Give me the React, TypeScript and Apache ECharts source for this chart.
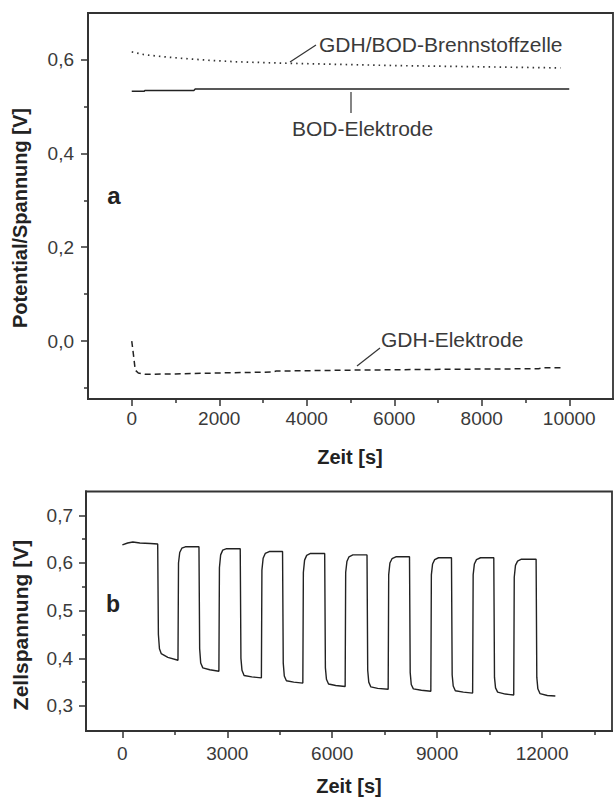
import React, { useEffect, useRef } from 'react';
import * as echarts from 'echarts';

// ---- Panel a: potentials / voltage vs time ----
const fuelCellA: [number, number][] = [
  [0, 0.616], [300, 0.610], [700, 0.606], [1200, 0.602], [1800, 0.598], [2400, 0.595],
  [3500, 0.592], [4500, 0.590], [6000, 0.587], [7500, 0.585], [9000, 0.583], [9800, 0.582],
];
const bodElectrodeA: [number, number][] = [
  [0, 0.532], [280, 0.532], [300, 0.534], [1420, 0.534], [1450, 0.537], [10000, 0.537],
];
const gdhElectrodeA: [number, number][] = [
  [0, 0.0], [40, -0.03], [80, -0.062], [150, -0.068], [300, -0.071], [1000, -0.070],
  [2000, -0.068], [3200, -0.066], [3300, -0.064], [5000, -0.062], [7500, -0.060],
  [9300, -0.059], [9400, -0.057], [9800, -0.057],
];

// ---- Panel b: cell voltage under switching load ----
const cellVoltageB: [number, number][] = [
  [0, 0.638], [150, 0.642], [300, 0.644], [500, 0.642], [800, 0.641], [1010, 0.640],
  [1030, 0.45], [1060, 0.42], [1110, 0.410], [1300, 0.402], [1590, 0.396],
  [1605, 0.60], [1640, 0.622], [1700, 0.631], [1800, 0.634], [2190, 0.634],
  [2210, 0.42], [2240, 0.39], [2300, 0.380], [2500, 0.376], [2760, 0.373],
  [2775, 0.59], [2810, 0.617], [2870, 0.627], [2980, 0.630], [3370, 0.630],
  [3390, 0.40], [3420, 0.375], [3480, 0.364], [3700, 0.361], [3975, 0.359],
  [3990, 0.585], [4025, 0.610], [4085, 0.620], [4200, 0.624], [4580, 0.624],
  [4600, 0.39], [4630, 0.363], [4690, 0.353], [4900, 0.350], [5160, 0.348],
  [5175, 0.58], [5210, 0.606], [5270, 0.616], [5380, 0.620], [5785, 0.620],
  [5805, 0.38], [5835, 0.356], [5895, 0.346], [6100, 0.343], [6370, 0.341],
  [6385, 0.58], [6420, 0.603], [6480, 0.613], [6590, 0.617], [6995, 0.617],
  [7015, 0.375], [7045, 0.35], [7105, 0.340], [7300, 0.337], [7600, 0.335],
  [7615, 0.575], [7650, 0.600], [7710, 0.609], [7820, 0.613], [8210, 0.613],
  [8230, 0.37], [8260, 0.345], [8320, 0.336], [8550, 0.333], [8820, 0.331],
  [8835, 0.575], [8870, 0.598], [8930, 0.607], [9040, 0.611], [9410, 0.611],
  [9430, 0.365], [9460, 0.342], [9520, 0.332], [9750, 0.329], [10015, 0.327],
  [10030, 0.575], [10065, 0.598], [10125, 0.607], [10240, 0.611], [10620, 0.611],
  [10640, 0.36], [10670, 0.338], [10730, 0.329], [10950, 0.325], [11190, 0.323],
  [11205, 0.57], [11240, 0.595], [11300, 0.604], [11410, 0.608], [11830, 0.608],
  [11850, 0.36], [11880, 0.336], [11940, 0.326], [12150, 0.322], [12380, 0.321],
];

// ---- Tick values ----
const xMajorA = [0, 2000, 4000, 6000, 8000, 10000];
const xMinorA = [1000, 3000, 5000, 7000, 9000];
const yMajorA = [0, 0.2, 0.4, 0.6];
const yMinorA = [-0.1, 0.1, 0.3, 0.5];
const xMajorB = [0, 3000, 6000, 9000, 12000];
const xMinorB = [1500, 4500, 7500, 10500, 13500];
const yMajorB = [0.3, 0.4, 0.5, 0.6, 0.7];
const yMinorB = [0.35, 0.45, 0.55, 0.65];

// ---- Texts ----
const seriesNamesA = ['GDH/BOD-Brennstoffzelle', 'BOD-Elektrode', 'GDH-Elektrode'];
const seriesNameB = 'Zellspannung';
const xTitle = 'Zeit [s]';
const yTitleA = 'Potential/Spannung [V]';
const yTitleB = 'Zellspannung [V]';

const FONT = '"Liberation Sans", Arial, Helvetica, sans-serif';
const AXIS_COLOR = '#333';
const TEXT_COLOR = '#3a3a3a';
const LINE_COLOR = '#222';

const comma = (v: number) => v.toFixed(1).replace('.', ',');

function majorAxis(kind: 'x' | 'y', gridIndex: number, min: number, max: number, ticks: number[], margin: number, fmt: (v: number) => string) {
  return {
    type: 'value',
    gridIndex,
    min,
    max,
    position: kind === 'x' ? 'bottom' : 'left',
    axisLine: { show: true, onZero: false, lineStyle: { color: AXIS_COLOR, width: 2 } },
    axisTick: { show: true, customValues: ticks, length: 7, lineStyle: { color: AXIS_COLOR, width: 1.5 } },
    axisLabel: {
      show: true,
      customValues: ticks,
      margin,
      fontSize: 19,
      fontFamily: FONT,
      color: TEXT_COLOR,
      formatter: (v: number) => fmt(v),
    },
    splitLine: { show: false },
  };
}

function minorAxis(kind: 'x' | 'y', gridIndex: number, min: number, max: number, ticks: number[]) {
  return {
    type: 'value',
    gridIndex,
    min,
    max,
    position: kind === 'x' ? 'bottom' : 'left',
    axisLine: { show: true, onZero: false, lineStyle: { color: AXIS_COLOR, width: 2 } },
    axisTick: { show: true, customValues: ticks, length: 4, lineStyle: { color: AXIS_COLOR, width: 1.5 } },
    axisLabel: { show: false },
    splitLine: { show: false },
  };
}

export default function App() {
  const ref = useRef<HTMLDivElement>(null);

  useEffect(() => {
    if (!ref.current) return;
    const chart = echarts.init(ref.current, undefined, { renderer: 'svg' });

    const intFmt = (v: number) => String(Math.round(v));

    const option: any = {
      animation: false,
      backgroundColor: '#ffffff',
      grid: [
        { left: 88, right: 1, top: 13, bottom: 399, show: true, borderColor: AXIS_COLOR, borderWidth: 1.8, backgroundColor: 'transparent', containLabel: false, outerBoundsMode: 'none' },
        { left: 86, right: 2, top: 491.5, bottom: 67, show: true, borderColor: AXIS_COLOR, borderWidth: 1.8, backgroundColor: 'transparent', containLabel: false, outerBoundsMode: 'none' },
      ],
      xAxis: [
        majorAxis('x', 0, -1000, 11000, xMajorA, 10, intFmt),
        minorAxis('x', 0, -1000, 11000, xMinorA),
        majorAxis('x', 1, -1040, 14000, xMajorB, 13, intFmt),
        minorAxis('x', 1, -1040, 14000, xMinorB),
      ],
      yAxis: [
        majorAxis('y', 0, -0.1235, 0.699, yMajorA, 14, comma),
        minorAxis('y', 0, -0.1235, 0.699, yMinorA),
        majorAxis('y', 1, 0.2475, 0.75, yMajorB, 13, comma),
        minorAxis('y', 1, 0.2475, 0.75, yMinorB),
      ],
      series: [
        {
          name: seriesNamesA[0], type: 'line', xAxisIndex: 0, yAxisIndex: 0, data: fuelCellA,
          showSymbol: false, symbol: 'none', smooth: false,
          lineStyle: { color: '#333', width: 1.7, type: [1.5, 4] },
        },
        {
          name: seriesNamesA[1], type: 'line', xAxisIndex: 0, yAxisIndex: 0, data: bodElectrodeA,
          showSymbol: false, symbol: 'none',
          lineStyle: { color: LINE_COLOR, width: 1.5, type: 'solid' },
        },
        {
          name: seriesNamesA[2], type: 'line', xAxisIndex: 0, yAxisIndex: 0, data: gdhElectrodeA,
          showSymbol: false, symbol: 'none',
          lineStyle: { color: LINE_COLOR, width: 1.5, type: [6, 4] },
        },
        {
          name: seriesNameB, type: 'line', xAxisIndex: 2, yAxisIndex: 2, data: cellVoltageB,
          showSymbol: false, symbol: 'none',
          lineStyle: { color: LINE_COLOR, width: 1.4, type: 'solid' },
        },
      ],
      graphic: [
        // annotation labels, panel a
        { type: 'text', x: 319, y: 44, style: { text: seriesNamesA[0], font: `21px ${FONT}`, fill: TEXT_COLOR, textAlign: 'left', textVerticalAlign: 'middle' } },
        { type: 'line', shape: { x1: 290, y1: 62, x2: 316, y2: 45 }, style: { stroke: '#333', lineWidth: 1.2 } },
        { type: 'text', x: 292, y: 128, style: { text: seriesNamesA[1], font: `21px ${FONT}`, fill: TEXT_COLOR, textAlign: 'left', textVerticalAlign: 'middle' } },
        { type: 'line', shape: { x1: 351, y1: 92, x2: 351, y2: 113 }, style: { stroke: '#333', lineWidth: 1.2 } },
        { type: 'text', x: 381, y: 339, style: { text: seriesNamesA[2], font: `21px ${FONT}`, fill: TEXT_COLOR, textAlign: 'left', textVerticalAlign: 'middle' } },
        { type: 'line', shape: { x1: 357, y1: 366, x2: 380, y2: 348 }, style: { stroke: '#333', lineWidth: 1.2 } },
        // panel letters
        { type: 'text', x: 114, y: 195, style: { text: 'a', font: `bold 24px ${FONT}`, fill: '#222', textAlign: 'center', textVerticalAlign: 'middle' } },
        { type: 'text', x: 113, y: 604, style: { text: 'b', font: `bold 23px ${FONT}`, fill: '#222', textAlign: 'center', textVerticalAlign: 'middle' } },
        // axis titles
        { type: 'text', x: 350, y: 457, style: { text: xTitle, font: `bold 20px ${FONT}`, fill: '#222', textAlign: 'center', textVerticalAlign: 'middle' } },
        { type: 'text', x: 349, y: 786, style: { text: xTitle, font: `bold 20px ${FONT}`, fill: '#222', textAlign: 'center', textVerticalAlign: 'middle' } },
        { type: 'text', x: 20, y: 218, rotation: Math.PI / 2, style: { text: yTitleA, font: `bold 20px ${FONT}`, fill: '#222', textAlign: 'center', textVerticalAlign: 'middle' } },
        { type: 'text', x: 20, y: 625, rotation: Math.PI / 2, style: { text: yTitleB, font: `bold 21px ${FONT}`, fill: '#222', textAlign: 'center', textVerticalAlign: 'middle' } },
      ],
    };

    chart.setOption(option);
    return () => {
      chart.dispose();
    };
  }, []);

  return (
    <div
      ref={ref}
      style={{ position: 'absolute', left: 0, top: 0, width: 614, height: 798, background: '#fff' }}
    />
  );
}
